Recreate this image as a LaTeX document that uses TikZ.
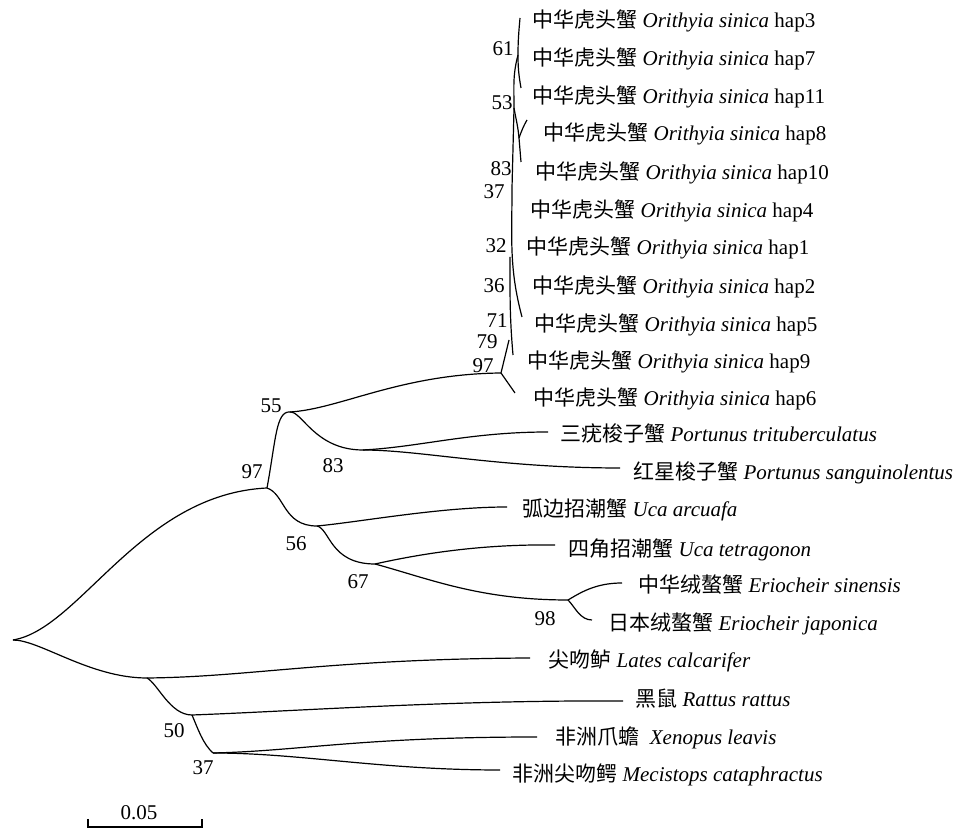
\documentclass[tikz,border=0pt]{standalone}
\usepackage{fontspec}
\setmainfont{Liberation Serif}
\newfontfamily\cjk{Noto Sans CJK SC}
\newcommand{\osin}[1]{{\cjk 中华虎头蟹} \textit{Orithyia sinica} hap#1}
\tikzset{
  tip/.style={anchor=west,inner sep=0pt},
  bs/.style={inner sep=0pt},
  br/.style={line width=0.6pt}
}
\begin{document}
\begin{tikzpicture}[x=0.5pt,y=0.5pt,font=\fontsize{10.5}{12}\selectfont]
        \useasboundingbox (0,0) rectangle (958,829);
        % inner nodes
        \coordinate (r) at (13,189);
        \coordinate (n97) at (267,341);
        \coordinate (n55) at (290,417);
        \coordinate (nO) at (501,456);
        \coordinate (n83) at (363,379);
        \coordinate (n56) at (317,303);
        \coordinate (n67) at (375,265);
        \coordinate (n98) at (568,229);
        \coordinate (nL) at (147,151);
        \coordinate (n50) at (192,114);
        \coordinate (n37) at (213,76);
        \coordinate (o61) at (518,774);
        \coordinate (o53) at (514,721);
        \coordinate (o83) at (519,691);
        \coordinate (o37) at (512,641);
        \coordinate (o32) at (510,572);
        \coordinate (o79) at (509,489);
        % tips
        \coordinate (h3) at (520,811);
        \coordinate (h11) at (521,741);
        \coordinate (h8) at (527,709);
        \coordinate (h10) at (521,667);
        \coordinate (h5) at (522,512);
        \coordinate (h9) at (513,474);
        \coordinate (h6) at (515,436);
        \coordinate (ptri) at (548,397);
        \coordinate (psan) at (620,361);
        \coordinate (uarc) at (507,322);
        \coordinate (utet) at (555,284);
        \coordinate (esin) at (622,246);
        \coordinate (ejap) at (592,209);
        \coordinate (lcal) at (530,171);
        \coordinate (rrat) at (623,128);
        \coordinate (xlea) at (537,92);
        \coordinate (mcat) at (500,59);

        \draw[br] (r) .. controls (80,200) and (140,335) .. (n97);
        \draw[br] (n97) .. controls (276,390) and (276,418) .. (n55);
        \draw[br] (n55) .. controls (340,420) and (400,455) .. (nO);
        \draw[br] (n55) .. controls (302,418) and (315,379) .. (n83);
        \draw[br] (n83) .. controls (420,382) and (470,397) .. (ptri);
        \draw[br] (n83) .. controls (420,379) and (500,361) .. (psan);
        \draw[br] (n97) .. controls (285,335) and (283,303) .. (n56);
        \draw[br] (n56) .. controls (360,307) and (440,322) .. (uarc);
        \draw[br] (n56) .. controls (330,300) and (330,265) .. (n67);
        \draw[br] (n67) .. controls (420,275) and (480,285) .. (utet);
        \draw[br] (n67) .. controls (430,250) and (480,229) .. (n98);
        \draw[br] (n98) .. controls (580,236) and (595,246) .. (esin);
        \draw[br] (n98) .. controls (575,222) and (580,209) .. (ejap);
        \draw[br] (r) .. controls (40,189) and (90,151) .. (nL);
        \draw[br] (nL) .. controls (250,152) and (330,170) .. (lcal);
        \draw[br] (nL) .. controls (158,145) and (170,114) .. (n50);
        \draw[br] (n50) .. controls (300,118) and (450,129) .. (rrat);
        \draw[br] (n50) .. controls (198,100) and (203,85) .. (n37);
        \draw[br] (n37) .. controls (300,78) and (360,92) .. (xlea);
        \draw[br] (n37) .. controls (300,76) and (380,59) .. (mcat);

        \draw[br] (h3) to[out=-95,in=90] (o61) to[out=-90,in=100] (h11);
        \draw[br] (o61) to[out=-105,in=90] (o53) -- (o37) to[out=-90,in=105] (h5);
        \draw[br] (o53) to[out=-80,in=95] (o83) to[out=-85,in=95] (h10);
        \draw[br] (h8) to[out=-120,in=70] (o83);
        \draw[br] (o32) to[out=-90,in=95] (h9);
        \draw[br] (o79) -- (nO) -- (h6);

        % labels
        \node[tip] (t3) at (532,808) {\osin{3}};
        \node[tip] (t7) at (532,770) {\osin{7}};
        \node[tip] (t11) at (532,732) {\osin{11}};
        \node[tip] (t8) at (543,695) {\osin{8}};
        \node[tip] (t10) at (535,656) {\osin{10}};
        \node[tip] (t4) at (530,618) {\osin{4}};
        \node[tip] (t1) at (526,581) {\osin{1}};
        \node[tip] (t2) at (532,542) {\osin{2}};
        \node[tip] (t5) at (534,504) {\osin{5}};
        \node[tip] (t9) at (527,467) {\osin{9}};
        \node[tip] (t6) at (533,430) {\osin{6}};
        \node[tip] (tptri) at (560,395) {{\cjk 三疣梭子蟹} \textit{Portunus trituberculatus}};
        \node[tip] (tpsan) at (633,356) {{\cjk 红星梭子蟹} \textit{Portunus sanguinolentus}};
        \node[tip] (tuarc) at (522,319) {{\cjk 弧边招潮蟹} \textit{Uca arcuafa}};
        \node[tip] (tutet) at (568,279) {{\cjk 四角招潮蟹} \textit{Uca tetragonon}};
        \node[tip] (tesin) at (638,244) {{\cjk 中华绒螯蟹} \textit{Eriocheir sinensis}};
        \node[tip] (tejap) at (608,205) {{\cjk 日本绒螯蟹} \textit{Eriocheir japonica}};
        \node[tip] (tlcal) at (548,168) {{\cjk 尖吻鲈} \textit{Lates calcarifer}};
        \node[tip] (trrat) at (635,130) {{\cjk 黑鼠} \textit{Rattus rattus}};
        \node[tip] (txlea) at (555,91) {{\cjk 非洲爪蟾} \ \textit{Xenopus leavis}};
        \node[tip] (tmcat) at (512,54) {{\cjk 非洲尖吻鳄} \textit{Mecistops cataphractus}};

        \node[bs] at (503,780) {61};
        \node[bs] at (502,726) {53};
        \node[bs] at (501,660) {83};
        \node[bs] at (494,637) {37};
        \node[bs] at (496,583) {32};
        \node[bs] at (494,543) {36};
        \node[bs] at (497,508) {71};
        \node[bs] at (487,487) {79};
        \node[bs] at (483,463) {97};
        \node[bs] at (271,423) {55};
        \node[bs] at (252,357) {97};
        \node[bs] at (333,363) {83};
        \node[bs] at (296,285) {56};
        \node[bs] at (358,247) {67};
        \node[bs] at (545,210) {98};
        \node[bs] at (174,98) {50};
        \node[bs] at (203,61) {37};

        % scale bar
        \coordinate (sa) at (88,2);
        \coordinate (sb) at (202,2);
        \draw[br] (sa) ++(0,8) -- (sa) -- (sb) -- ++(0,8);
        \node[bs] at (139,16) {0.05};
\end{tikzpicture}
\end{document}
